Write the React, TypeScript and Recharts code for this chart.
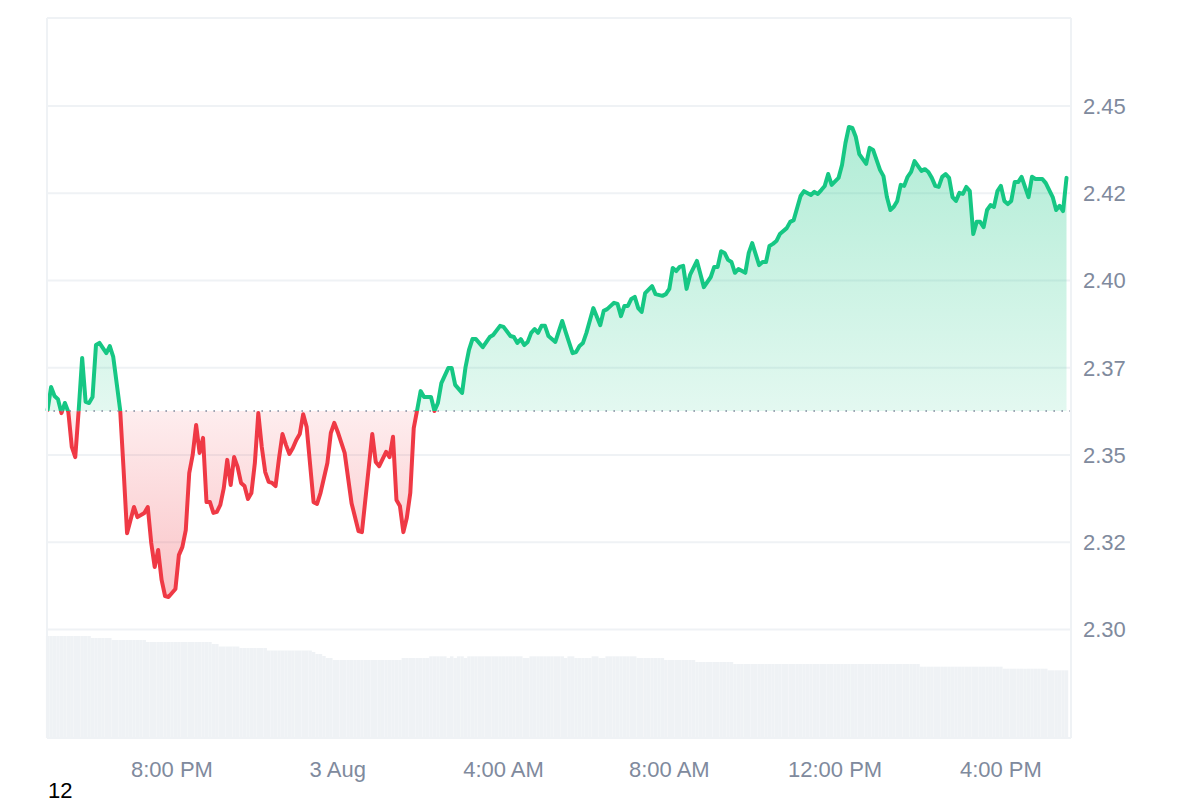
import React from "react";
import {
  Area,
  Bar,
  CartesianGrid,
  ComposedChart,
  ReferenceLine,
  XAxis,
  YAxis,
} from "recharts";

// [minutes since 5:00 PM, price]
const eveningPrices: [number, number][] = [
  [0, 2.3629], [5, 2.3695], [10, 2.3669], [15, 2.366], [20, 2.362], [25, 2.3649], [30, 2.3623], [35, 2.3523],
  [40, 2.3494], [45, 2.3629], [50, 2.3778], [55, 2.3652], [60, 2.3649], [65, 2.3666], [70, 2.3815], [75, 2.3821],
  [85, 2.3792], [90, 2.3812], [95, 2.3781], [105, 2.3629], [110, 2.3457], [115, 2.3276], [125, 2.3351], [130, 2.3322],
  [140, 2.3334], [145, 2.3351], [150, 2.3248], [155, 2.3179], [160, 2.3228], [165, 2.3142], [170, 2.3096], [175, 2.3093],
  [185, 2.3116], [190, 2.3213], [195, 2.3236], [200, 2.3285], [205, 2.3448], [210, 2.35], [215, 2.3586], [220, 2.3506],
  [225, 2.3549], [230, 2.3365], [235, 2.3365], [240, 2.3334], [245, 2.3337], [250, 2.3357], [255, 2.3405], [260, 2.3486],
  [265, 2.3414], [270, 2.3494], [275, 2.3466], [280, 2.342], [285, 2.3411], [290, 2.3374], [295, 2.3391], [300, 2.3477],
  [305, 2.362], [310, 2.3523], [315, 2.3451], [320, 2.3423], [325, 2.342], [330, 2.3411], [335, 2.3491], [340, 2.356],
  [345, 2.3529], [350, 2.3503], [355, 2.352], [360, 2.3543], [365, 2.356], [370, 2.3617], [375, 2.358], [385, 2.3365],
  [390, 2.336], [395, 2.3391], [405, 2.3477], [410, 2.3563], [415, 2.3592], [420, 2.3566], [430, 2.3506], [440, 2.3362],
  [450, 2.3282], [455, 2.3279], [465, 2.3466], [470, 2.356], [475, 2.348], [480, 2.3468], [490, 2.3509], [495, 2.3494],
  [500, 2.3552], [505, 2.3371], [510, 2.3354], [515, 2.3279], [520, 2.332], [525, 2.3391], [530, 2.3577], [535, 2.3629],
];
const overnightPrices: [number, number][] = [
  [540, 2.3683], [545, 2.3666], [555, 2.3666], [560, 2.3626], [565, 2.3649], [570, 2.3706], [580, 2.3749], [585, 2.3749],
  [590, 2.3701], [600, 2.3678], [605, 2.3752], [610, 2.3801], [615, 2.3832], [620, 2.3832], [630, 2.3809], [640, 2.3838],
  [645, 2.3844], [655, 2.387], [660, 2.3867], [670, 2.3841], [675, 2.3838], [680, 2.3821], [685, 2.3832], [690, 2.3815],
  [695, 2.3824], [700, 2.385], [705, 2.3861], [710, 2.385], [715, 2.387], [720, 2.387], [725, 2.3841], [735, 2.3824],
  [745, 2.3884], [750, 2.3852], [760, 2.3792], [765, 2.3795], [770, 2.3812], [775, 2.3821], [780, 2.385], [790, 2.3921],
  [800, 2.3872], [805, 2.3913], [810, 2.3918], [820, 2.3936], [825, 2.3933], [830, 2.3898], [835, 2.3927], [840, 2.3927],
  [845, 2.3947], [850, 2.3953], [855, 2.3921], [860, 2.391], [865, 2.3964], [875, 2.3984], [880, 2.3961], [890, 2.3956],
  [895, 2.3961], [900, 2.3976], [905, 2.4036], [910, 2.4027], [915, 2.4039], [920, 2.4042], [925, 2.3976], [930, 2.4016],
  [940, 2.4056], [950, 2.3981], [960, 2.401], [965, 2.4039], [970, 2.4039], [975, 2.4084], [980, 2.4079], [985, 2.4059],
  [990, 2.4053], [995, 2.4022], [1000, 2.4033], [1010, 2.4022], [1015, 2.4079], [1020, 2.4107], [1030, 2.4044], [1035, 2.4053],
];
const afternoonPrices: [number, number][] = [
  [1040, 2.4053], [1045, 2.4099], [1050, 2.4105], [1055, 2.4113], [1060, 2.4133], [1070, 2.415], [1075, 2.4168], [1080, 2.4173],
  [1090, 2.4242], [1095, 2.4256], [1105, 2.4245], [1110, 2.4254], [1115, 2.4248], [1120, 2.4259], [1125, 2.4271], [1130, 2.4305],
  [1135, 2.4274], [1145, 2.4294], [1150, 2.4331], [1155, 2.4394], [1160, 2.444], [1165, 2.4437], [1170, 2.4411], [1175, 2.4362],
  [1185, 2.4334], [1190, 2.438], [1195, 2.4374], [1205, 2.4317], [1210, 2.4299], [1215, 2.4239], [1220, 2.4202], [1225, 2.4211],
  [1230, 2.4228], [1235, 2.4274], [1240, 2.4271], [1245, 2.4297], [1250, 2.4311], [1255, 2.4342], [1265, 2.4314], [1270, 2.4319],
  [1275, 2.4311], [1280, 2.4294], [1285, 2.4271], [1290, 2.4268], [1295, 2.4297], [1300, 2.4305], [1305, 2.4294], [1310, 2.4239],
  [1315, 2.4228], [1320, 2.4251], [1325, 2.4248], [1330, 2.4268], [1335, 2.4256], [1340, 2.4133], [1345, 2.4168], [1350, 2.4168],
  [1355, 2.4153], [1360, 2.4202], [1365, 2.4216], [1370, 2.4211], [1375, 2.4256], [1380, 2.4271], [1385, 2.4228], [1390, 2.4219],
  [1395, 2.4228], [1400, 2.4282], [1405, 2.4282], [1410, 2.4297], [1420, 2.4239], [1425, 2.4297], [1430, 2.4291], [1440, 2.4291],
  [1445, 2.4279], [1455, 2.4239], [1460, 2.4202], [1465, 2.4214], [1470, 2.4199], [1475, 2.4294],
];

// Volume stays level for long stretches: [number of 5-minute bars, level]
const volumeRuns: [number, number][] = [
  [13, 1.02], [6, 1.0], [10, 0.98], [19, 0.96], [2, 0.94], [6, 0.915], [8, 0.9], [13, 0.875], [1, 0.86], [2, 0.84],
  [1, 0.82], [2, 0.8], [20, 0.78], [8, 0.8], [5, 0.817], [1, 0.8], [1, 0.817], [1, 0.8], [2, 0.817], [1, 0.8],
  [16, 0.817], [2, 0.8], [10, 0.817], [1, 0.8], [2, 0.817], [5, 0.8], [2, 0.817], [2, 0.8], [9, 0.817], [8, 0.8],
  [9, 0.78], [11, 0.76], [54, 0.74], [24, 0.713], [13, 0.693], [6, 0.677],
];

const xTickValues = [180, 420, 660, 900, 1140, 1380];
const xTickLabels = ["8:00 PM", "3 Aug", "4:00 AM", "8:00 AM", "12:00 PM", "4:00 PM"];
const yTickValues = [2.3, 2.325, 2.35, 2.375, 2.4, 2.425, 2.45];
const yTickLabels = ["2.30", "2.32", "2.35", "2.37", "2.40", "2.42", "2.45"];

const openingPrice = 2.3626;
const yMin = 2.26891;
const yMax = 2.47521;
const volumeMax = 7.2;

const GREEN = "#16c784";
const RED = "#ef3945";
const BORDER = "#eff2f5";
const TICK = "#808a9d";
const FONT = "'Liberation Sans', Arial, Helvetica, sans-serif";

const PLOT_TOP = 18;
const PLOT_BOTTOM = 738;

function buildRows() {
  const byMinute = new Map<number, { minute: number; price?: number; volume?: number }>();
  const row = (minute: number) => {
    if (!byMinute.has(minute)) byMinute.set(minute, { minute });
    return byMinute.get(minute)!;
  };
  [...eveningPrices, ...overnightPrices, ...afternoonPrices].forEach(([m, p]) => {
    row(m).price = p;
  });
  let bar = 0;
  volumeRuns.forEach(([count, level]) => {
    for (let k = 0; k < count; k++) {
      row(bar * 5).volume = level;
      bar++;
    }
  });
  return [...byMinute.values()].sort((a, b) => a.minute - b.minute);
}

const rows = buildRows();
const split = (yMax - openingPrice) / (yMax - yMin);
const lowOffset = (yMax - 2.3093) / (yMax - yMin);

export default function App() {
  return (
    <div style={{ position: "absolute", left: 0, top: 0, width: 1200, height: 800, overflow: "hidden", background: "#fff", fontFamily: FONT }}>
      <ComposedChart
        width={1200}
        height={800}
        data={rows}
        margin={{ top: PLOT_TOP, right: 0, bottom: 0, left: 0 }}
      >
        <defs>
          <linearGradient id="priceStroke" gradientUnits="userSpaceOnUse" x1="0" x2="0" y1={PLOT_TOP} y2={PLOT_BOTTOM}>
            <stop offset={split} stopColor={GREEN} />
            <stop offset={split} stopColor={RED} />
          </linearGradient>
          <linearGradient id="priceFill" gradientUnits="userSpaceOnUse" x1="0" x2="0" y1={PLOT_TOP} y2={PLOT_BOTTOM}>
            <stop offset={0} stopColor={GREEN} stopOpacity={0.42} />
            <stop offset={split} stopColor={GREEN} stopOpacity={0.12} />
            <stop offset={split} stopColor={RED} stopOpacity={0.09} />
            <stop offset={lowOffset} stopColor={RED} stopOpacity={0.3} />
          </linearGradient>
        </defs>
        <CartesianGrid yAxisId="price" vertical={false} stroke={BORDER} strokeWidth={2} />
        <XAxis
          dataKey="minute"
          type="number"
          domain={[-0.9, 1481.5]}
          ticks={xTickValues}
          interval={0}
          tickFormatter={(v: number) => xTickLabels[xTickValues.indexOf(v)]}
          height={62}
          tickLine={false}
          tickMargin={17}
          axisLine={{ stroke: BORDER, strokeWidth: 2 }}
          tick={{ fill: TICK, fontSize: 22, fontFamily: FONT }}
        />
        <YAxis
          yAxisId="volume"
          orientation="left"
          width={47}
          domain={[0, volumeMax]}
          tick={false}
          tickLine={false}
          axisLine={{ stroke: BORDER, strokeWidth: 2 }}
        />
        <YAxis
          yAxisId="price"
          orientation="right"
          width={129}
          domain={[yMin, yMax]}
          ticks={yTickValues}
          interval={0}
          tickFormatter={(v: number) => yTickLabels[yTickValues.indexOf(v)]}
          tickLine={false}
          tickMargin={6}
          axisLine={{ stroke: BORDER, strokeWidth: 2 }}
          tick={{ fill: TICK, fontSize: 22, fontFamily: FONT }}
        />
        <ReferenceLine yAxisId="price" y={yMax} stroke={BORDER} strokeWidth={2} />
        <Bar
          yAxisId="volume"
          dataKey="volume"
          fill={BORDER}
          barSize={3.45}
          isAnimationActive={false}
        />
        <Area
          yAxisId="price"
          dataKey="price"
          type="linear"
          baseValue={openingPrice}
          connectNulls
          stroke="url(#priceStroke)"
          strokeWidth={4}
          strokeLinejoin="round"
          strokeLinecap="round"
          fill="url(#priceFill)"
          fillOpacity={1}
          dot={false}
          activeDot={false}
          isAnimationActive={false}
        />
        <ReferenceLine
          yAxisId="price"
          y={openingPrice}
          stroke="#808a9d"
          strokeWidth={1.6}
          strokeDasharray="1.6 6.4"
        />
      </ComposedChart>
      <div style={{ position: "absolute", left: 48, top: 783, fontSize: 22, lineHeight: "16px", color: "#000" }}>12</div>
    </div>
  );
}
